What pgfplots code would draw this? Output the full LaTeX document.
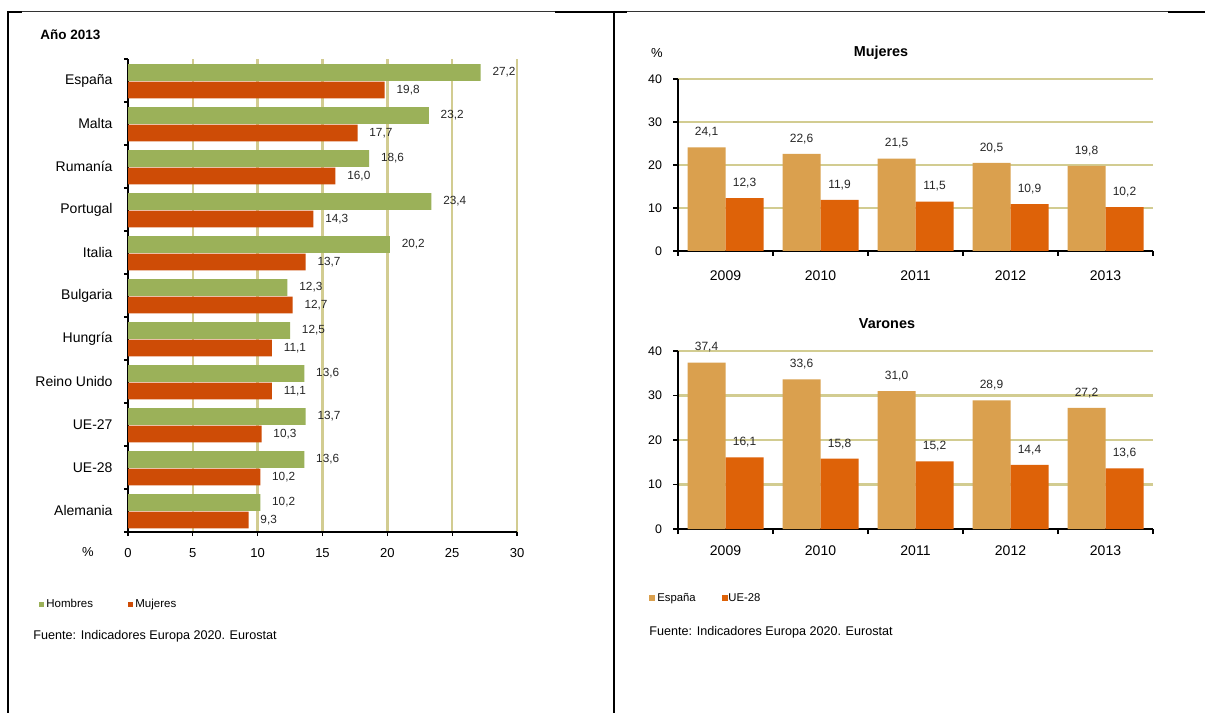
\documentclass[border=0pt]{standalone}
\usepackage{pgfplots}
\pgfplotsset{compat=1.18}
\usepackage{fontspec}
\setmainfont{Liberation Sans}
\definecolor{hgreen}{RGB}{155,177,89}
\definecolor{mred}{RGB}{206,76,6}
\definecolor{esp}{RGB}{218,160,78}
\definecolor{ue}{RGB}{222,98,8}
\definecolor{gridc}{RGB}{210,204,145}
\newcommand{\fs}[1]{\fontsize{#1}{#1}\selectfont}
\pgfplotsset{/pgf/number format/assume math mode=true}
\begin{document}
\begin{tikzpicture}
\path[use as bounding box, fill=white] (0,0) rectangle (602.5pt,356.5pt);
% table borders
\draw[line width=0.5pt, black!80] (4pt,350.5pt) -- (602.5pt,350.5pt);
\draw[line width=1pt] (4pt,350.5pt) -- (11pt,350.5pt);
\draw[line width=1pt] (277.5pt,350.5pt) -- (313.5pt,350.5pt);
\draw[line width=1pt] (584pt,350.5pt) -- (602.5pt,350.5pt);
\draw[line width=1pt] (4pt,351pt) -- (4pt,0pt);
\draw[line width=1.3pt] (307pt,351pt) -- (307pt,0pt);

% ---------------- left chart
\begin{axis}[
  at={(64pt,90.5pt)}, anchor=south west, scale only axis,
  width=194.5pt, height=236.5pt, clip=false,
  xbar, bar width=8.3pt,
  xmin=0, xmax=30, ymin=-0.5, ymax=10.5,
  axis x line*=bottom, axis y line*=left,
  axis line style={line width=0.7pt, black},
  xtick={0,5,...,30},
  xmajorgrids, major grid style={gridc, line width=1.2pt},
  ytick={0,...,10},
  yticklabels={Alemania,UE-28,UE-27,Reino Unido,Hungría,Bulgaria,Italia,Portugal,Rumanía,Malta,España},
  minor ytick={-0.5,0.5,...,10.5},
  major y tick style={draw=none},
  tick style={black, line width=0.6pt},
  tick align=outside, major tick length=2pt, minor tick length=2pt,
  xticklabel style={font=\fs{6.5}, yshift=-2.5pt},
  yticklabel style={font=\fs{7}, xshift=-2.2pt},
  point meta=x,
  nodes near coords={\pgfmathprintnumber[fixed,fixed zerofill,precision=1,use comma]{\pgfplotspointmeta}},
  nodes near coords style={font=\fs{5.9}, anchor=west, inner sep=0pt, xshift=5.75pt, text=black!85},
]
\addplot[fill=hgreen, draw=none, bar shift=4pt] coordinates {(10.2,0) (13.6,1) (13.7,2) (13.6,3) (12.5,4) (12.3,5) (20.2,6) (23.4,7) (18.6,8) (23.2,9) (27.2,10)};
\addplot[fill=mred, draw=none, bar shift=-4.75pt] coordinates {(9.3,0) (10.2,1) (10.3,2) (11.1,3) (11.1,4) (12.7,5) (13.7,6) (14.3,7) (16.0,8) (17.7,9) (19.8,10)};
\end{axis}

% ---------------- right top chart (Mujeres)
\begin{axis}[
  at={(339pt,231pt)}, anchor=south west, scale only axis,
  width=237.5pt, height=86pt, clip=false,
  ybar, bar width=19pt,
  xmin=-0.5, xmax=4.5, ymin=0, ymax=40,
  axis x line*=bottom, axis y line*=left,
  axis line style={line width=0.7pt, black},
  xtick={0,...,4}, xticklabels={2009,2010,2011,2012,2013},
  minor xtick={-0.5,0.5,...,4.5},
  major x tick style={draw=none},
  ytick={0,10,...,40},
  ymajorgrids, major grid style={gridc, line width=1.2pt},
  tick style={black, line width=0.6pt},
  tick align=outside, major tick length=2.5pt, minor tick length=2.5pt,
  xticklabel style={font=\fs{7}, yshift=-3.7pt},
  yticklabel style={font=\fs{6.2}, xshift=-2pt},
  nodes near coords={\pgfmathprintnumber[fixed,fixed zerofill,precision=1,use comma]{\pgfplotspointmeta}},
  nodes near coords style={font=\fs{6}, anchor=center, inner sep=0pt, yshift=7.5pt, text=black!85},
]
\addplot[fill=esp, draw=none, bar shift=-9.5pt] coordinates {(0,24.1) (1,22.6) (2,21.5) (3,20.5) (4,19.8)};
\addplot[fill=ue, draw=none, bar shift=9.5pt] coordinates {(0,12.3) (1,11.9) (2,11.5) (3,10.9) (4,10.2)};
\end{axis}

% ---------------- right bottom chart (Varones)
\begin{axis}[
  at={(339pt,92pt)}, anchor=south west, scale only axis,
  width=237.5pt, height=89pt, clip=false,
  ybar, bar width=19pt,
  xmin=-0.5, xmax=4.5, ymin=0, ymax=40,
  axis x line*=bottom, axis y line*=left,
  axis line style={line width=0.7pt, black},
  xtick={0,...,4}, xticklabels={2009,2010,2011,2012,2013},
  minor xtick={-0.5,0.5,...,4.5},
  major x tick style={draw=none},
  ytick={0,10,...,40},
  ymajorgrids, major grid style={gridc, line width=1.2pt},
  tick style={black, line width=0.6pt},
  tick align=outside, major tick length=2.5pt, minor tick length=2.5pt,
  xticklabel style={font=\fs{7}, yshift=-2.2pt},
  yticklabel style={font=\fs{6.2}, xshift=-2pt},
  nodes near coords={\pgfmathprintnumber[fixed,fixed zerofill,precision=1,use comma]{\pgfplotspointmeta}},
  nodes near coords style={font=\fs{6}, anchor=center, inner sep=0pt, yshift=7.5pt, text=black!85},
]
\addplot[fill=esp, draw=none, bar shift=-9.5pt] coordinates {(0,37.4) (1,33.6) (2,31.0) (3,28.9) (4,27.2)};
\addplot[fill=ue, draw=none, bar shift=9.5pt] coordinates {(0,16.1) (1,15.8) (2,15.2) (3,14.4) (4,13.6)};
\end{axis}

% ---------------- texts and legends
\node[font=\bfseries\fs{6.75}, anchor=west, inner sep=0pt] at (20pt,339pt) {Año 2013};
\node[font=\fs{6.5}, inner sep=0pt] at (44pt,80.5pt) {\%};
\fill[hgreen] (19.5pt,53pt) rectangle (22pt,55.5pt);
\node[font=\fs{5.75}, anchor=base west, inner sep=0pt] at (23pt,53pt) {Hombres};
\fill[mred] (64pt,53pt) rectangle (66.5pt,55.5pt);
\node[font=\fs{5.75}, anchor=base west, inner sep=0pt] at (67.5pt,53pt) {Mujeres};
\node[font=\fs{6.3}, anchor=base west, inner sep=0pt] at (16.5pt,37pt) {Fuente: Indicadores Europa 2020. Eurostat};

\node[font=\fs{6.5}, inner sep=0pt] at (328.5pt,330pt) {\%};
\node[font=\bfseries\fs{7.2}, inner sep=0pt] at (440.5pt,330pt) {Mujeres};
\node[font=\bfseries\fs{7.2}, inner sep=0pt] at (443.5pt,194.75pt) {Varones};
\fill[esp] (324.5pt,56pt) rectangle (327.5pt,59pt);
\node[font=\fs{5.65}, anchor=base west, inner sep=0pt] at (328.5pt,56pt) {España};
\fill[ue] (360.75pt,56pt) rectangle (363.75pt,59pt);
\node[font=\fs{5.65}, anchor=base west, inner sep=0pt] at (364pt,56pt) {UE-28};
\node[font=\fs{6.3}, anchor=base west, inner sep=0pt] at (324.5pt,39pt) {Fuente: Indicadores Europa 2020. Eurostat};
\end{tikzpicture}
\end{document}
